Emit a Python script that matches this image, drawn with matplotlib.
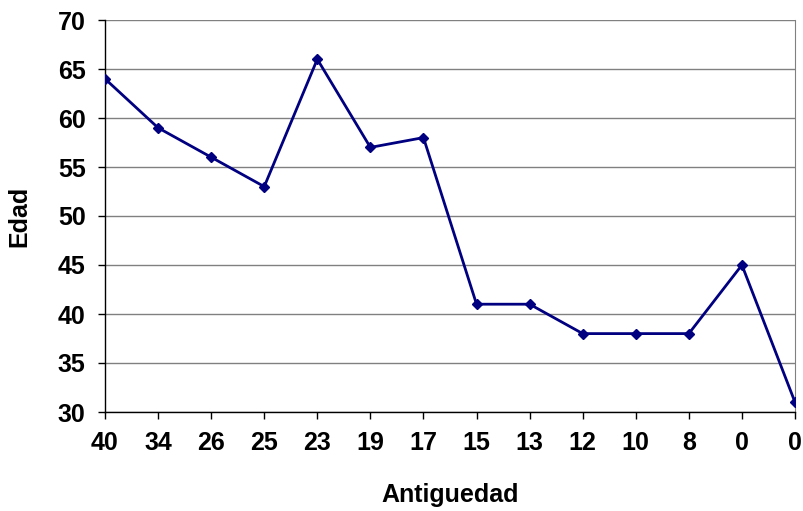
import matplotlib
matplotlib.use("Agg")
import matplotlib.pyplot as plt

# === DATA ===
antiguedad = ["40", "34", "26", "25", "23", "19", "17", "15", "13", "12", "10", "8", "0", "0"]
edad = [64, 59, 56, 53, 66, 57, 58, 41, 41, 38, 38, 38, 45, 31]
y_ticks = [30, 35, 40, 45, 50, 55, 60, 65, 70]

plt.rcParams['font.family'] = ['Liberation Sans', 'DejaVu Sans']

fig = plt.figure(figsize=(8.04, 5.11), dpi=100)
ax = fig.add_axes([105 / 804, 1 - 412 / 511, 690 / 804, 392 / 511])

x = list(range(len(edad)))
ax.plot(x, edad, color="#000080", lw=2, marker="D", markersize=5.5, zorder=3)

ax.set_xlim(0, len(edad) - 1)
ax.set_ylim(30, 70)
ax.set_yticks(y_ticks)
ax.set_xticks(x)
ax.set_xticklabels(antiguedad)
ax.yaxis.grid(True, color="#808080", lw=1)
ax.set_axisbelow(True)

for s in ["left", "bottom"]:
    ax.spines[s].set_color("black")
    ax.spines[s].set_linewidth(1)
ax.spines["right"].set_color("#808080")
ax.spines["top"].set_visible(False)
ax.tick_params(direction="out", length=5, width=1, colors="black", labelsize=18, pad=9)
for lbl in ax.get_xticklabels() + ax.get_yticklabels():
    lbl.set_fontweight("bold")

ax.set_xlabel("Antiguedad", fontsize=18, fontweight="bold", labelpad=20)
ax.set_ylabel("Edad", fontsize=18, fontweight="bold", labelpad=19)

fig.savefig("out.png", dpi=100)
